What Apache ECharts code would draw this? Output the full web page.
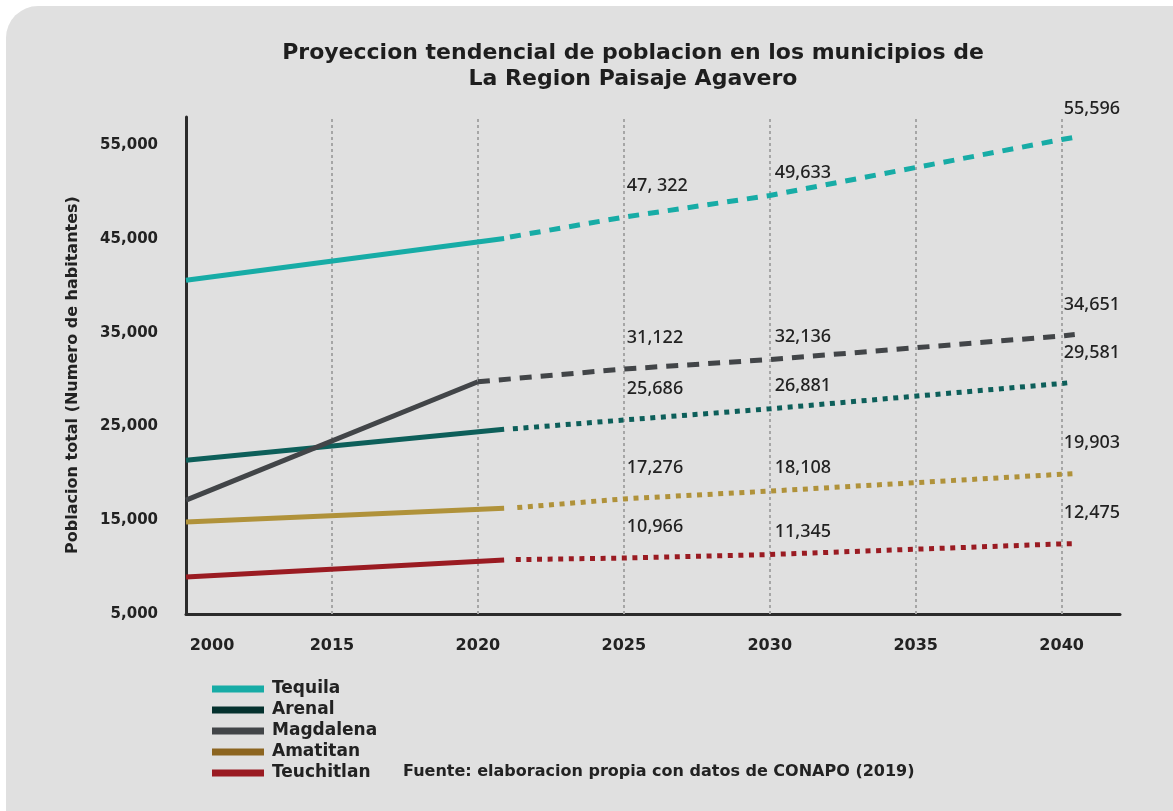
<!DOCTYPE html>
<html>
<head>
<meta charset="utf-8">
<script src="https://cdn.jsdelivr.net/npm/echarts@6/dist/echarts.min.js"></script>
<style>
  html, body { margin: 0; padding: 0; background: #ffffff; overflow: hidden; }
  #panel { position: absolute; left: 6px; top: 6px; width: 1200px; height: 840px; background: #e0e0e0; border-radius: 32px; }
  #chart { position: absolute; left: 0; top: 0; width: 1173px; height: 811px; }
</style>
</head>
<body>
<div id="panel"></div>
<div id="chart"></div>
<script>
// etiquetas del eje x (posicion 0..6 en el eje)
const years = ['2000', '2015', '2020', '2025', '2030', '2035', '2040'];
const yTicks = [5000, 15000, 25000, 35000, 45000, 55000];

const municipios = ['Tequila', 'Arenal', 'Magdalena', 'Amatitan', 'Teuchitlan'];
// tramo continuo (datos observados)
const inicio2000 = [40600, 21400, 17150, 14800, 8950];
const finObsPos = [2.18, 2.18, 2, 2.18, 2.18];
const finObs = [45050, 24700, 29770, 16270, 10760];
// tramo punteado (proyeccion)
const inicioProyPos = [2.22, 2.24, 2, 2.27, 2.26];
const inicioProy = [45200, 24750, 29770, 16350, 10800];
const proy2025 = [47322, 25686, 31122, 17276, 10966];
const proy2030 = [49633, 26881, 32136, 18108, 11345];
const proy2040 = [55596, 29581, 34651, 19903, 12475];
const finProyPos = [6.11, 6.07, 6.09, 6.11, 6.08];
const finProy = [55900, 29700, 34800, 20000, 12500];
// textos tal como aparecen en la grafica
const texto2025 = ['47, 322', '25,686', '31,122', '17,276', '10,966'];

const lineColors = ['#17aca6', '#0d5f5a', '#424548', '#b0923a', '#9a1b22'];
const legendColors = ['#17aca6', '#04312e', '#424548', '#8c6520', '#9a1b22'];
const dashTypes = [[11, 9], [5, 5.6], [12, 9], [5, 5.6], [5, 5.6]];

const fmt = v => v.toLocaleString('en-US');
const BOLD = '"DejaVu Sans", sans-serif';
const FONT = '"Noto Sans", sans-serif';

const chart = echarts.init(document.getElementById('chart'));

const series = [];
municipios.forEach((name, i) => {
  series.push({
    name: name,
    type: 'line',
    symbol: 'none',
    silent: true,
    z: 3,
    lineStyle: { color: lineColors[i], width: 5, cap: 'butt' },
    itemStyle: { color: legendColors[i] },
    data: [[0, inicio2000[i]], [finObsPos[i], finObs[i]]]
  });
  const lbl = (text, dx, dy) => ({
    show: true, formatter: text, position: [dx, dy], align: 'left', verticalAlign: 'middle',
    color: '#222', fontFamily: FONT, fontSize: 18, fontWeight: 500
  });
  series.push({
    name: name,
    type: 'line',
    symbol: 'circle',
    symbolSize: 0,
    showSymbol: true,
    silent: true,
    z: 3,
    lineStyle: { color: lineColors[i], width: 5, cap: 'butt', type: dashTypes[i] },
    itemStyle: { color: legendColors[i] },
    label: { show: false },
    data: [
      { value: [inicioProyPos[i], inicioProy[i]] },
      { value: [3, proy2025[i]], label: lbl(texto2025[i], 3, -31) },
      { value: [4, proy2030[i]], label: lbl(fmt(proy2030[i]), 5, -23) },
      { value: [6, proy2040[i]], label: lbl(fmt(proy2040[i]), 2, -31) },
      { value: [finProyPos[i], finProy[i]] }
    ]
  });
});

// lineas verticales punteadas de la reticula
series[0].markLine = {
  silent: true,
  symbol: 'none',
  z: 1,
  label: { show: false },
  lineStyle: { color: '#a6a6a6', width: 2, type: [3, 3] },
  data: [1, 2, 3, 4, 5, 6].map(v => ({ xAxis: v }))
};

const option = {
  animation: false,
  backgroundColor: 'transparent',
  title: {
    text: 'Proyeccion tendencial de poblacion en los municipios de\nLa Region Paisaje Agavero',
    left: 628,
    top: 35,
    textAlign: 'center',
    textStyle: { fontFamily: BOLD, fontSize: 22, fontWeight: 'bold', color: '#1e1e1e', lineHeight: 26 }
  },
  grid: { left: 186, right: 53, top: 117, bottom: 197 },
  xAxis: {
    type: 'value',
    min: 0,
    max: 6.4,
    interval: 1,
    axisLine: { show: true, lineStyle: { color: '#2b2b2b', width: 3 } },
    axisTick: { show: false },
    splitLine: { show: false },
    axisLabel: {
      margin: 24,
      fontFamily: BOLD, fontSize: 16, fontWeight: 'bold', color: '#222',
      formatter: v => {
        const t = years[Math.round(v)];
        if (Math.abs(v - Math.round(v)) > 1e-6 || !t) return '';
        return v === 0 ? '{first|' + t + '}' : t;
      },
      rich: {
        first: { padding: [0, 0, 0, 52], fontFamily: BOLD, fontSize: 16, fontWeight: 'bold', color: '#222' }
      }
    }
  },
  yAxis: {
    type: 'value',
    min: 5000,
    max: 58000,
    interval: 10000,
    axisLine: { show: true, lineStyle: { color: '#2b2b2b', width: 3 } },
    axisTick: { show: false },
    splitLine: { show: false },
    axisLabel: {
      margin: 28,
      showMaxLabel: false,
      fontFamily: BOLD, fontSize: 15, fontWeight: 'bold', color: '#222',
      formatter: v => (yTicks.includes(v) ? fmt(v) : '')
    }
  },
  legend: {
    orient: 'vertical',
    left: 207,
    top: 675,
    icon: 'rect',
    itemWidth: 52,
    itemHeight: 7,
    itemGap: 3,
    selectedMode: false,
    textStyle: { fontFamily: BOLD, fontSize: 17, fontWeight: 'bold', color: '#222', lineHeight: 18, padding: [0, 0, 0, 3] },
    data: municipios.map((m, i) => ({ name: m, itemStyle: { color: legendColors[i] } }))
  },
  graphic: [
    {
      type: 'text',
      x: 73, y: 375,
      rotation: Math.PI / 2,
      style: {
        text: 'Poblacion total (Numero de habitantes)',
        align: 'center', verticalAlign: 'middle',
        font: 'bold 16px ' + BOLD, fill: '#222'
      }
    },
    {
      type: 'text',
      x: 403, y: 772,
      style: {
        text: 'Fuente: elaboracion propia con datos de CONAPO (2019)',
        align: 'left', verticalAlign: 'middle',
        font: 'bold 16px ' + BOLD, fill: '#222'
      }
    }
  ],
  series: series
};

chart.setOption(option);
</script>
</body>
</html>
